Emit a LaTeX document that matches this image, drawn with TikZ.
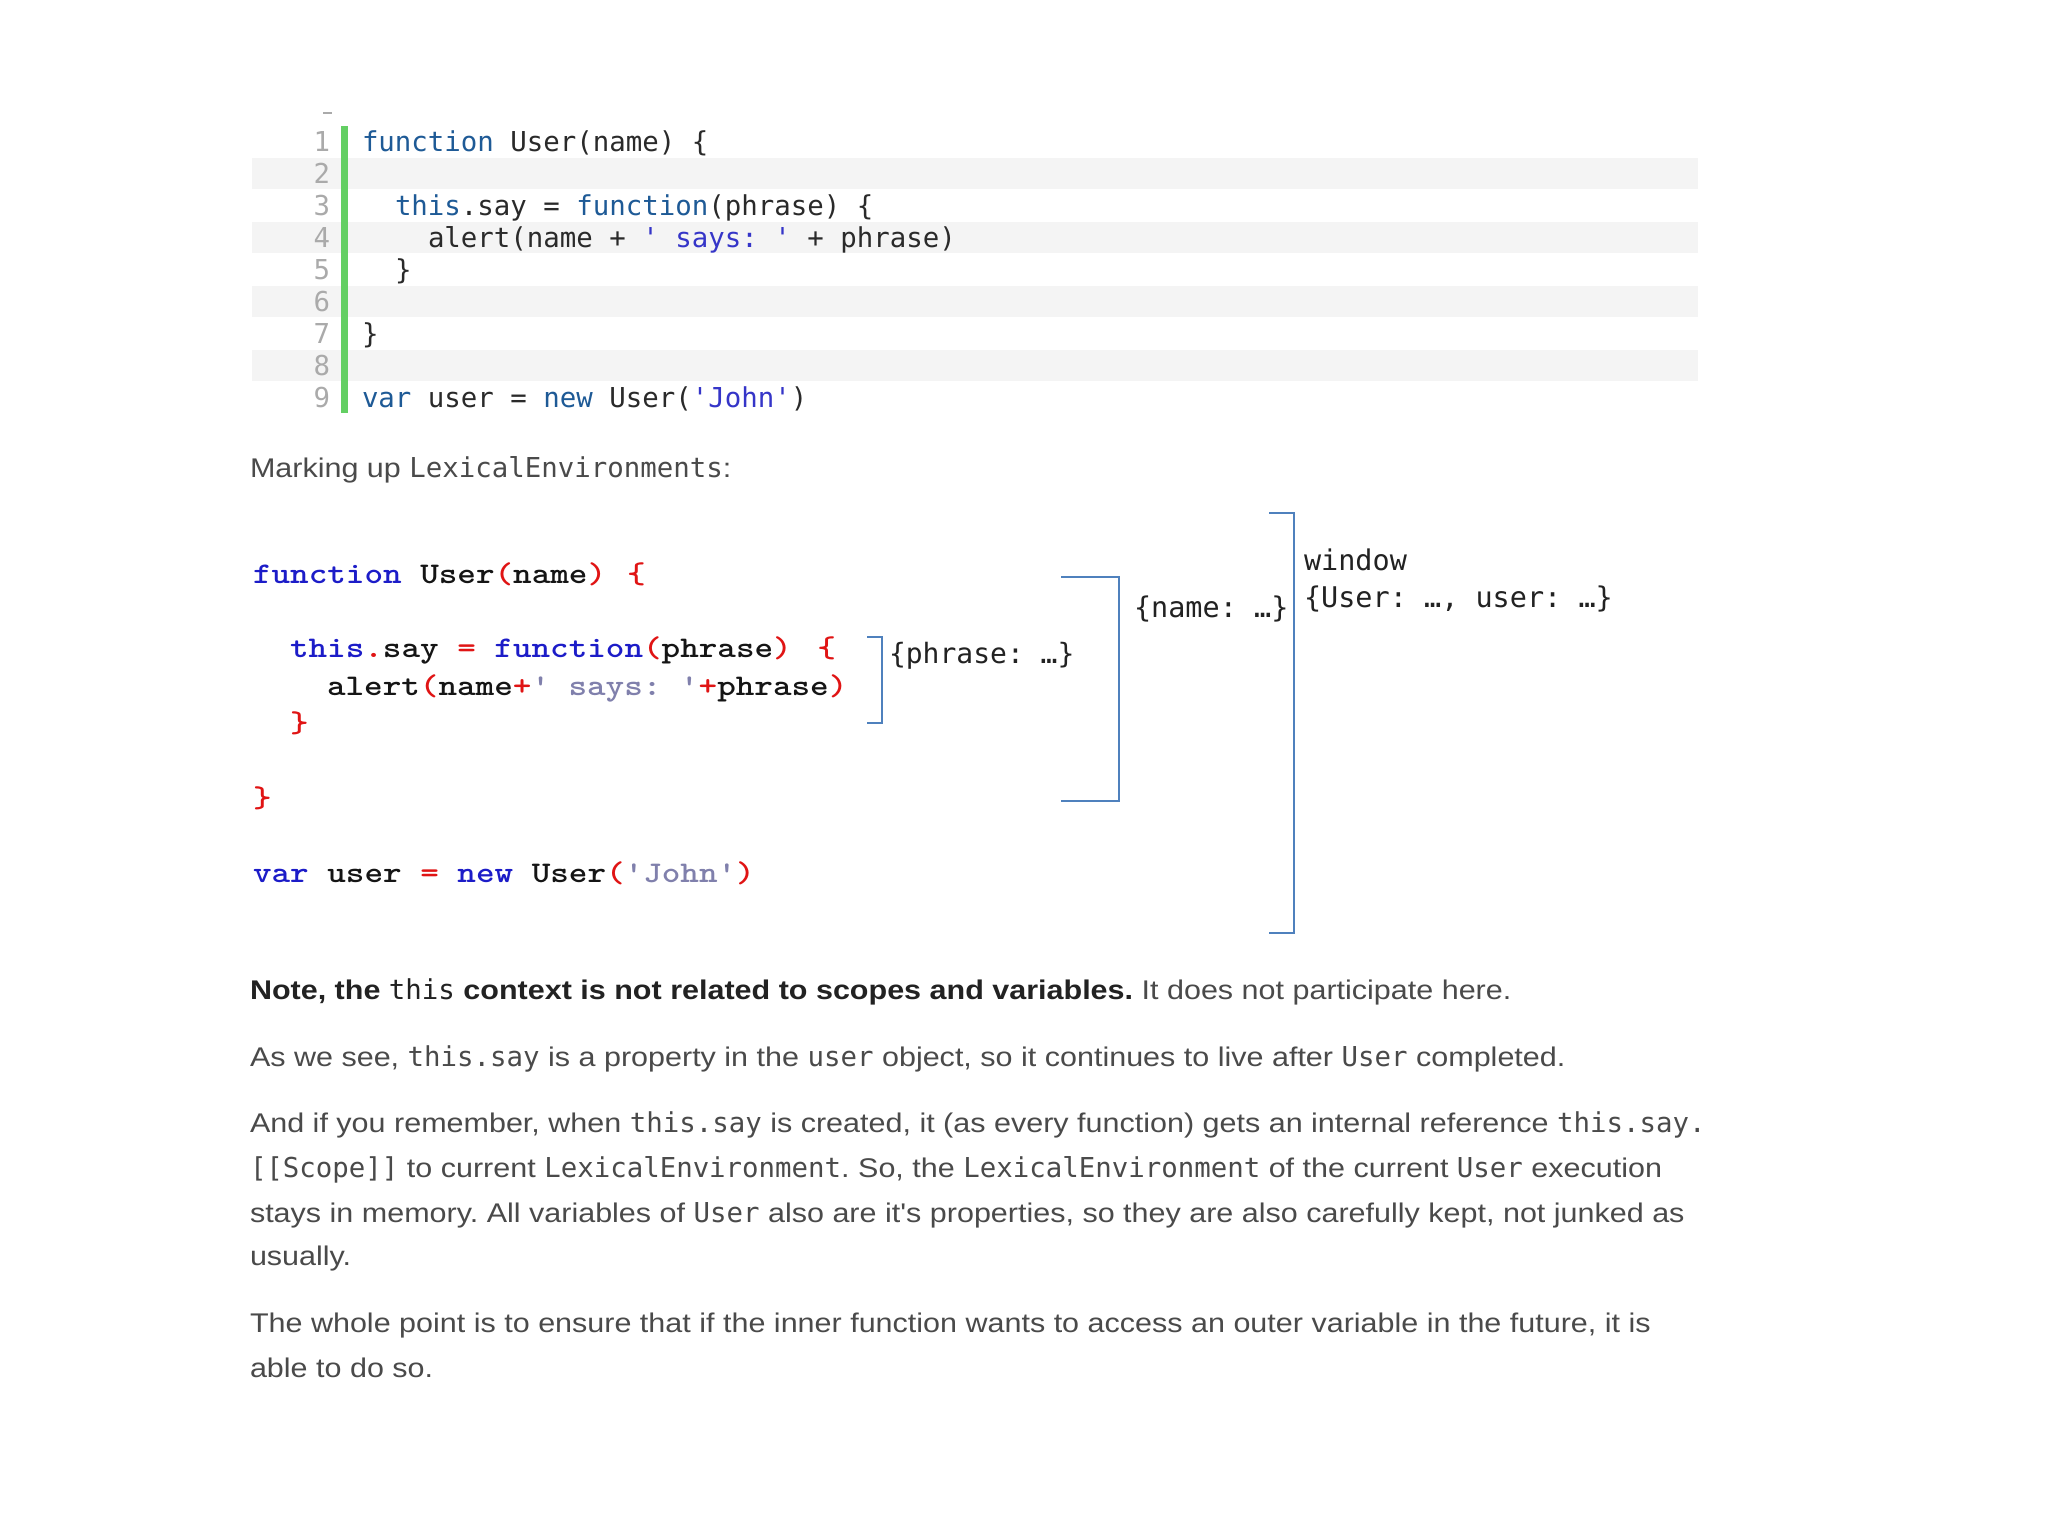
\documentclass[tikz,border=0pt]{standalone}
\usepackage{fontspec}
\setmainfont{Liberation Sans}
\newfontfamily\bodyf[FakeStretch=1.13]{Liberation Sans}
\newfontfamily\cmono{DejaVu Sans Mono}
\definecolor{lnum}{HTML}{AAAAAA}
\definecolor{stripe}{HTML}{F4F4F4}
\definecolor{gbar}{HTML}{63CF63}
\definecolor{tkw}{HTML}{1E5A96}
\definecolor{tstr}{HTML}{3535C8}
\definecolor{tid}{HTML}{2A2A2A}
\definecolor{mkw}{HTML}{1C1CC8}
\definecolor{mred}{HTML}{E01414}
\definecolor{mstr}{HTML}{8080AC}
\definecolor{mid}{HTML}{151515}
\definecolor{brk}{HTML}{4F81BD}
\definecolor{bodytxt}{HTML}{4A4A4A}
\definecolor{boldtxt}{HTML}{222222}
\newcommand{\tk}[1]{\textcolor{tkw}{#1}}
\newcommand{\ts}[1]{\textcolor{tstr}{#1}}
\newcommand{\jkw}[1]{\textcolor{mkw}{#1}}
\newcommand{\jred}[1]{\textcolor{mred}{#1}}
\newcommand{\jstr}[1]{\textcolor{mstr}{#1}}
\newcommand{\ic}[1]{{\cmono\mdseries\fontsize{27.4}{32}\selectfont #1}}
\frenchspacing
\tikzset{
  x=1pt, y=-1pt,
  txt/.style={inner sep=0pt, outer sep=0pt, anchor=base west},
  topcode/.style={txt, text=tid, font=\cmono\fontsize{27.4}{32}\selectfont},
  linenum/.style={inner sep=0pt, outer sep=0pt, anchor=base east, text=lnum, font=\cmono\fontsize{27.4}{32}\selectfont},
  midcode/.style={txt, text=mid, font=\ttfamily\bfseries\fontsize{30}{36}\selectfont, xscale=1.18, transform shape},
  envlabel/.style={txt, text=boldtxt, font=\cmono\fontsize{28.5}{32}\selectfont},
  bodyline/.style={txt, text=bodytxt, font=\bodyf\fontsize{27}{32}\selectfont},
  bracket/.style={draw=brk, line width=2.4pt},
}
\begin{document}
\begin{tikzpicture}
\useasboundingbox[fill=white] (0,0) rectangle (2048,1536);
% ---------- top code listing ----------
\foreach \j in {0,1,2,3} {
  \fill[stripe] (252,158+64*\j) rectangle (1698,189+64*\j);
}
\fill[gbar] (341,126) rectangle (348,413);
\draw[lnum, line width=1.5pt] (323,113) -- (332,113);
\foreach \i in {1,...,9} {
  \node[linenum] (n\i) at (330,151+32*\i-32) {\i};
}
\node[topcode] (t1) at (362,151) {\tk{function} User(name) \{};
\node[topcode] (t3) at (395,215) {\tk{this}.say = \tk{function}(phrase) \{};
\node[topcode] (t4) at (428,247) {alert(name + \ts{' says: '} + phrase)};
\node[topcode] (t5) at (395,279) {\}};
\node[topcode] (t7) at (362,343) {\}};
\node[topcode] (t9) at (362,407) {\tk{var} user = \tk{new} User(\ts{'John'})};
% ---------- heading ----------
\node[bodyline] (mark) at (250,477) {Marking up \ic{LexicalEnvironments}:};
% ---------- marked-up code ----------
\node[midcode] (m1) at (253,583) {\jkw{function} User\jred{(}name\jred{)} \hspace{2pt}\jred{\{}};
\node[midcode] (m3) at (290,657.8) {\jkw{this}\jred{.}say \jred{=} \jkw{function}\jred{(}phrase\jred{)} \hspace{6pt}\jred{\{}};
\node[midcode] (m4) at (327,695.2) {alert\jred{(}name\jred{+}\jstr{' says: '}\jred{+}phrase\jred{)}};
\node[midcode] (m5) at (290,732.6) {\jred{\}}};
\node[midcode] (m7) at (253,807.4) {\jred{\}}};
\node[midcode] (m9) at (253,882.2) {\jkw{var} user \jred{=} \jkw{new} User\jred{(}\jstr{'John'}\jred{)}};
% ---------- environment brackets ----------
\draw[bracket] (867,637) -- (882,637) -- (882,723) -- (867,723);
\draw[bracket] (1061,577) -- (1119,577) -- (1119,801) -- (1061,801);
\draw[bracket] (1269,513) -- (1294,513) -- (1294,933) -- (1269,933);
\node[envlabel, font=\cmono\fontsize{28}{30}\selectfont] (lphrase) at (889,663) {\{phrase: …\}};
\node[envlabel] (lname) at (1134,617) {\{name: …\}};
\node[envlabel] (lwin) at (1304,570) {window};
\node[envlabel] (lglob) at (1304,607) {\{User: …, user: …\}};
% ---------- body text ----------
\node[bodyline] (p1) at (250,999) {\textcolor{boldtxt}{\bfseries Note, the \ic{this} context is not related to scopes and variables.} It does not participate here.};
\node[bodyline] (p2) at (250,1066) {As we see, \ic{this.say} is a property in the \ic{user} object, so it continues to live after \ic{User} completed.};
\node[bodyline] (p3) at (250,1132) {And if you remember, when \ic{this.say} is created, it (as every function) gets an internal reference \ic{this.say.}};
\node[bodyline] (p4) at (250,1177) {\ic{[[Scope]]} to current \ic{LexicalEnvironment}. So, the \ic{LexicalEnvironment} of the current \ic{User} execution};
\node[bodyline] (p5) at (250,1222) {stays in memory. All variables of \ic{User} also are it's properties, so they are also carefully kept, not junked as};
\node[bodyline] (p6) at (250,1265) {usually.};
\node[bodyline] (p7) at (250,1332) {The whole point is to ensure that if the inner function wants to access an outer variable in the future, it is};
\node[bodyline] (p8) at (250,1377) {able to do so.};
\end{tikzpicture}
\end{document}
